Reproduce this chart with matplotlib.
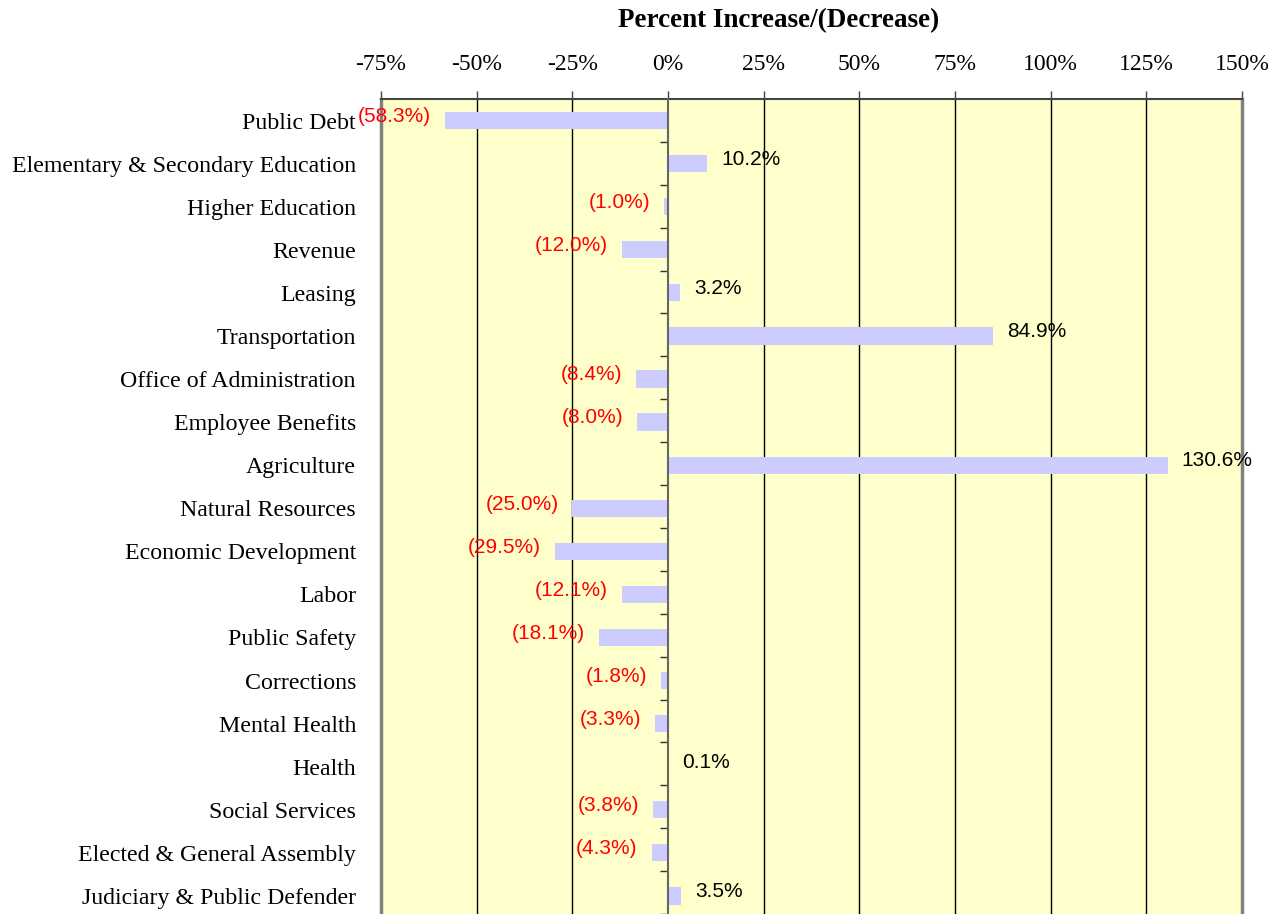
import matplotlib.pyplot as plt
import numpy as np

# Kategori dan nilai persentase perubahan
categories = [
    "Public Debt", "Elementary & Secondary Education", "Higher Education",
    "Revenue", "Leasing", "Transportation", "Office of Administration",
    "Employee Benefits", "Agriculture", "Natural Resources",
    "Economic Development", "Labor", "Public Safety", "Corrections",
    "Mental Health", "Health", "Social Services",
    "Elected & General Assembly", "Judiciary & Public Defender",
]
values = [-58.3, 10.2, -1.0, -12.0, 3.2, 84.9, -8.4, -8.0, 130.6, -25.0,
          -29.5, -12.1, -18.1, -1.8, -3.3, 0.1, -3.8, -4.3, 3.5]
x_ticks = [-75, -50, -25, 0, 25, 50, 75, 100, 125, 150]
x_title = "Percent Increase/(Decrease)"

serif = ["Liberation Serif", "DejaVu Serif"]
sans = ["Liberation Sans", "DejaVu Sans"]

fig = plt.figure(figsize=(12.8, 9.14), dpi=100)
ax = fig.add_axes([381 / 1280, 0, (1242 - 381) / 1280, 1 - 99 / 914])
ax.set_facecolor("#FFFFCC")

y = np.arange(len(categories))
ax.barh(y, values, height=0.4, color="#CCCCFF", zorder=3)

ax.set_xlim(-75, 150)
ax.set_ylim(18.42, -0.5)

# sumbu x di atas
ax.xaxis.tick_top()
ax.set_xticks(x_ticks)
ax.set_xticklabels([f"{t}%" for t in x_ticks], family=serif, fontsize=17)
ax.tick_params(axis="x", direction="out", length=6, width=1, color="#444444", pad=11)
fig.text(779 / 1280, 1 - 21 / 914, x_title, family=serif, fontsize=19.5,
         fontweight="bold", ha="center", va="center")
for t in x_ticks[1:-1]:
    if t != 0:
        ax.axvline(t, color="black", lw=1, zorder=1)

ax.set_yticks(y)
ax.set_yticklabels(categories, family=serif, fontsize=17.2)
ax.tick_params(axis="y", length=0, pad=18)

for side in ["left", "right"]:
    ax.spines[side].set_color("#808080")
    ax.spines[side].set_linewidth(2.5)
ax.spines["top"].set_color("#444444")
ax.spines["top"].set_linewidth(1.5)
ax.spines["bottom"].set_visible(False)

# garis nol dengan tick kecil di batas kategori
ax2 = ax.twinx()
ax2.set_ylim(ax.get_ylim())
ax2.set_yticks(np.arange(len(categories)) + 0.5)
ax2.yaxis.set_ticks_position("left")
ax2.spines["left"].set_position(("data", 0))
ax2.spines["left"].set_color("#666666")
ax2.spines["left"].set_linewidth(1.5)
ax2.tick_params(axis="y", direction="out", length=6, width=1, color="#333333", labelleft=False, labelright=False)
for side in ["right", "top", "bottom"]:
    ax2.spines[side].set_visible(False)
ax2.patch.set_visible(False)

# label nilai
for yi, v in zip(y, values):
    if v < 0:
        txt = f"({abs(v):.1f}%)"
        ax.annotate(txt, (v, yi), xytext=(-10, 3), textcoords="offset points",
                    ha="right", va="center", color="red", family=sans, fontsize=15, zorder=4)
    else:
        txt = f"{v:.1f}%"
        ax.annotate(txt, (v, yi), xytext=(10, 3), textcoords="offset points",
                    ha="left", va="center", color="black", family=sans, fontsize=15, zorder=4)

fig.savefig("out.png", dpi=100)
